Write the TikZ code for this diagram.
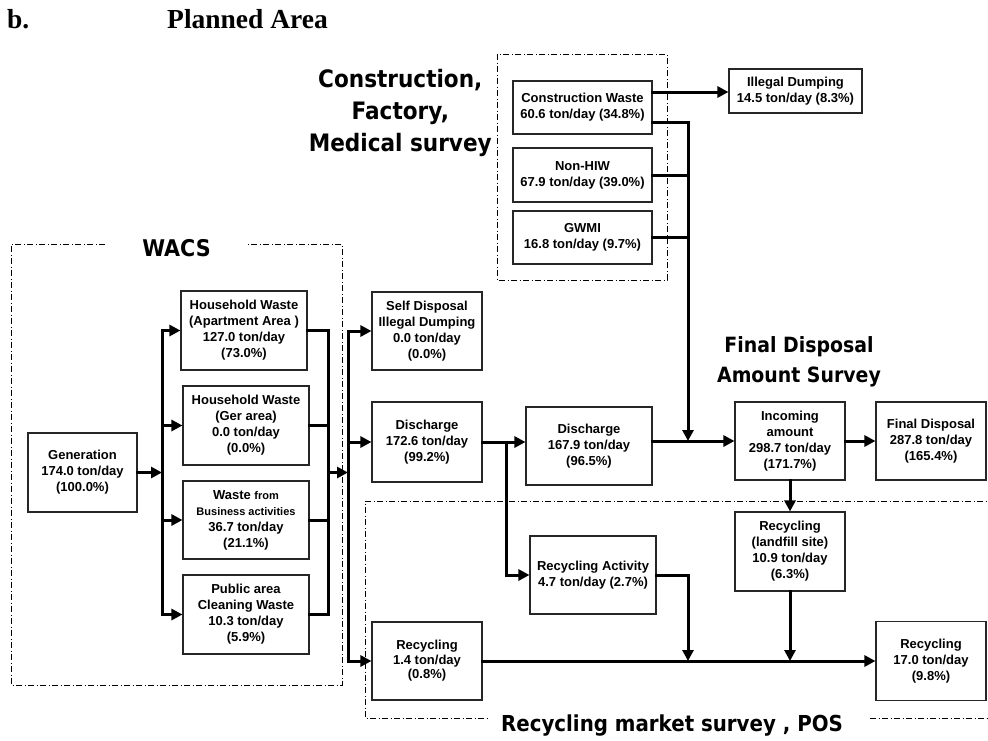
\documentclass[tikz,border=0pt]{standalone}
\usepackage{fontspec}
\setmainfont{Liberation Sans}
\newfontfamily\labelfont[FakeStretch=0.9]{DejaVu Sans Bold}
\newfontfamily\titlefont{Liberation Serif}
\usetikzlibrary{arrows.meta}

\begin{document}
\begin{tikzpicture}[x=1pt,y=-1pt,
  box/.style={draw=black!85, line width=1.1pt, fill=white, inner sep=0pt,
    align=center, font=\bfseries\fontsize{13}{16}\selectfont},
  wire/.style={line width=3pt, line cap=rect},
  flow/.style={wire, -{Triangle[length=11pt,width=11pt]}},
  frame/.style={line width=0.8pt, dash pattern=on 6pt off 2.5pt on 1pt off 2.5pt},
  survey/.style={inner sep=0pt, font=\labelfont},
  heading/.style={inner sep=0pt, anchor=base west,
    font=\titlefont\bfseries\fontsize{27.5}{32}\selectfont}]

\useasboundingbox (0,0) rectangle (988,740);

% heading
\node[heading] (hb) at (7,28) {b.};
\node[heading] (hp) at (167,28) {Planned Area};

% survey frames and their captions
\draw[frame] (105,244) -- (11,244) -- (11,685) -- (342,685) -- (342,244) -- (247,244);
\node[survey, anchor=base, font=\labelfont\fontsize{23}{28}\selectfont] (wacs) at (176.5,256) {WACS};

\draw[frame] (497,54) rectangle (667,280);
\node[survey, anchor=east, align=center, font=\labelfont\fontsize{24}{32}\selectfont]
  (cfm) at (492,113) {Construction,\\Factory,\\Medical survey};

\draw[frame] (995,501) -- (365,501) -- (365,718) -- (487,718);
\draw[frame] (870,718) -- (995,718);
\node[survey, anchor=base, font=\labelfont\fontsize{22}{28}\selectfont]
  (rms) at (672,731.5) {Recycling market survey , POS};

\node[survey, align=center, font=\labelfont\fontsize{21}{30}\selectfont]
  (fdas) at (799,362) {Final Disposal\\Amount Survey};

% generation and sources
\node[box, minimum width=109pt, minimum height=79pt] (gen) at (82.5,472.5)
  {Generation\\174.0 ton/day\\(100.0\%)};
\node[box, minimum width=126pt, minimum height=79pt] (hapt) at (244,330.5)
  {Household Waste\\(Apartment Area )\\127.0 ton/day\\(73.0\%)};
\node[box, minimum width=126pt, minimum height=79pt] (hger) at (246,425.5)
  {Household Waste\\(Ger area)\\0.0 ton/day\\(0.0\%)};
\node[box, minimum width=126pt, minimum height=78pt] (biz) at (246,520)
  {Waste {\fontsize{11}{16}\selectfont from}\\{\fontsize{11}{16}\selectfont Business activities}\\36.7 ton/day\\(21.1\%)};
\node[box, minimum width=126pt, minimum height=79pt] (pub) at (246,614.5)
  {Public area\\Cleaning Waste\\10.3 ton/day\\(5.9\%)};

% discharge stage
\node[box, minimum width=110pt, minimum height=78pt] (sd) at (427,331)
  {Self Disposal\\Illegal Dumping\\0.0 ton/day\\(0.0\%)};
\node[box, minimum width=110pt, minimum height=80pt] (dis1) at (427,442)
  {Discharge\\172.6 ton/day\\(99.2\%)};
\node[box, minimum width=110pt, minimum height=78pt, font=\bfseries\fontsize{13}{14.5}\selectfont]
  (rec14) at (427,661) {Recycling\\1.4 ton/day\\(0.8\%)};
\node[box, minimum width=126pt, minimum height=78pt] (dis2) at (589,446)
  {Discharge\\167.9 ton/day\\(96.5\%)};
\node[box, minimum width=126pt, minimum height=78pt] (recact) at (593,575)
  {Recycling Activity\\4.7 ton/day (2.7\%)};

% construction, factory and medical sources
\node[box, minimum width=139pt, minimum height=53pt] (cw) at (582.5,107.5)
  {Construction Waste\\60.6 ton/day (34.8\%)};
\node[box, minimum width=139pt, minimum height=54pt] (nhiw) at (582.5,175)
  {Non-HIW\\67.9 ton/day (39.0\%)};
\node[box, minimum width=139pt, minimum height=53pt] (gwmi) at (582.5,237.5)
  {GWMI\\16.8 ton/day (9.7\%)};
\node[box, minimum width=133pt, minimum height=44pt] (ild) at (795.5,91)
  {Illegal Dumping\\14.5 ton/day (8.3\%)};

% landfill
\node[box, minimum width=110pt, minimum height=78pt] (inc) at (790,441)
  {Incoming\\amount\\298.7 ton/day\\(171.7\%)};
\node[box, minimum width=110pt, minimum height=78pt] (fin) at (931,441)
  {Final Disposal\\287.8 ton/day\\(165.4\%)};
\node[box, minimum width=110pt, minimum height=79pt] (reclf) at (790,551.5)
  {Recycling\\(landfill site)\\10.9 ton/day\\(6.3\%)};
\node[box, minimum width=110pt, minimum height=79pt] (rec17) at (931,661)
  {Recycling\\17.0 ton/day\\(9.8\%)};

% bus lines
\coordinate (bl) at (162,0);
\coordinate (br) at (328,0);
\coordinate (bn) at (348,0);
\coordinate (bd) at (506,0);
\coordinate (bv) at (688,0);

% generation to sources
\draw[flow] (gen.east) -- (gen.east -| bl);
\draw[wire] (bl |- hapt.west) -- (bl |- pub.west);
\foreach \n in {hapt,hger,biz,pub} \draw[flow] (bl |- \n.west) -- (\n.west);

% sources to discharge stage
\foreach \n in {hapt,hger,biz,pub} \draw[wire] (\n.east) -- (br |- \n.east);
\draw[wire] (br |- hapt.east) -- (br |- pub.east);
\draw[flow] (br |- gen.east) -- (bn |- gen.east);
\draw[wire] (bn |- sd.west) -- (bn |- rec14.west);
\foreach \n in {sd,dis1,rec14} \draw[flow] (bn |- \n.west) -- (\n.west);

% discharge flows
\draw[flow] (dis1.east) -- (dis1.east -| dis2.west);
\draw[flow] (bd |- dis1.east) |- (recact.west);
\draw[flow] (dis2.east |- inc.west) -- (inc.west);

% construction, factory and medical flows
\draw[flow] ([yshift=15.5pt]cw.east) -- ([yshift=15.5pt]cw.east -| ild.west);
\draw[flow] ([yshift=-14.5pt]cw.east) -| (bv |- inc.west);
\draw[wire] (nhiw.east) -- (nhiw.east -| bv);
\draw[wire] (gwmi.east) -- (gwmi.east -| bv);

% recycling flows
\draw[flow] (recact.east) -| (bv |- rec17.west);
\draw[flow] (rec14.east) -- (rec17.west);
\draw[flow] (inc.east) -- (fin.west);
\draw[flow] (inc.south) -- (reclf.north);
\draw[flow] (reclf.south) -- (reclf.south |- rec17.west);

\end{tikzpicture}
\end{document}
